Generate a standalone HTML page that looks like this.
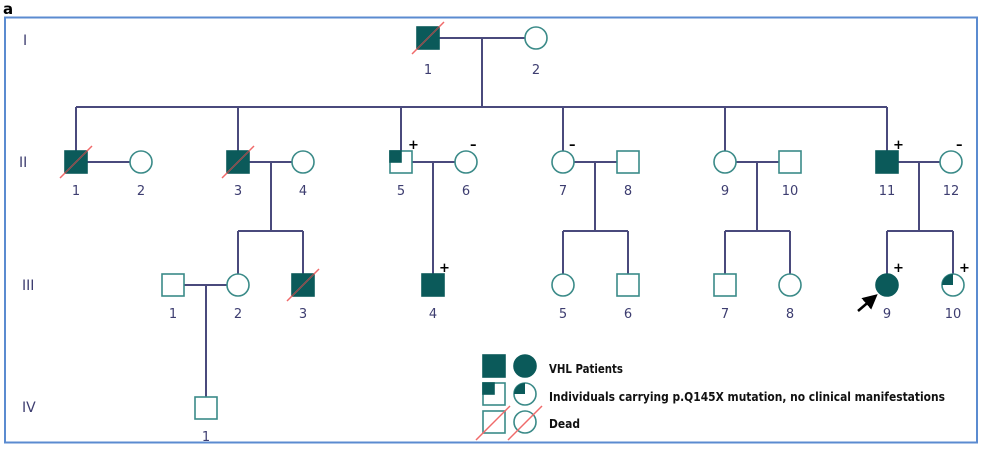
<!DOCTYPE html>
<html><head><meta charset="utf-8"><style>
html,body{margin:0;padding:0;background:#fff;}
svg{display:block;}
text{font-family:"DejaVu Sans","Liberation Sans",sans-serif;}
</style></head><body>
<svg width="992" height="453" viewBox="0 0 992 453" xmlns="http://www.w3.org/2000/svg">
<defs>
<marker id="ah" markerWidth="6" markerHeight="6" refX="3" refY="3" orient="auto"><path d="M0,0 L6,3 L0,6 z" fill="#000"/></marker>
</defs>
<text x="3" y="14" font-family="Liberation Sans" font-weight="bold" font-size="15" fill="#000">a</text>
<rect x="5" y="17.5" width="972" height="425" fill="none" stroke="#5b8bd0" stroke-width="2"/>
<g fill="#3d3d70" font-size="14" font-family="Liberation Mono">
<text x="23" y="45">I</text>
<text x="19" y="167">II</text>
<text x="22" y="290">III</text>
<text x="22" y="412">IV</text>
</g>
<g stroke="#4a4a7c" stroke-width="2" fill="none">
<line x1="439" y1="38" x2="525" y2="38"/>
<line x1="482" y1="38" x2="482" y2="107"/>
<line x1="76" y1="107" x2="887" y2="107"/>
<line x1="76" y1="107" x2="76" y2="151"/>
<line x1="238" y1="107" x2="238" y2="151"/>
<line x1="401" y1="107" x2="401" y2="151"/>
<line x1="563" y1="107" x2="563" y2="151"/>
<line x1="725" y1="107" x2="725" y2="151"/>
<line x1="887" y1="107" x2="887" y2="151"/>
<line x1="87" y1="162" x2="130" y2="162"/>
<line x1="249" y1="162" x2="292" y2="162"/>
<line x1="412" y1="162" x2="455" y2="162"/>
<line x1="574" y1="162" x2="617" y2="162"/>
<line x1="736" y1="162" x2="779" y2="162"/>
<line x1="898" y1="162" x2="940" y2="162"/>
<line x1="271" y1="162" x2="271" y2="231"/>
<line x1="238" y1="231" x2="303" y2="231"/>
<line x1="238" y1="231" x2="238" y2="274"/>
<line x1="303" y1="231" x2="303" y2="274"/>
<line x1="433" y1="162" x2="433" y2="274"/>
<line x1="595" y1="162" x2="595" y2="231"/>
<line x1="563" y1="231" x2="628" y2="231"/>
<line x1="563" y1="231" x2="563" y2="274"/>
<line x1="628" y1="231" x2="628" y2="274"/>
<line x1="757" y1="162" x2="757" y2="231"/>
<line x1="725" y1="231" x2="790" y2="231"/>
<line x1="725" y1="231" x2="725" y2="274"/>
<line x1="790" y1="231" x2="790" y2="274"/>
<line x1="919" y1="162" x2="919" y2="231"/>
<line x1="887" y1="231" x2="953" y2="231"/>
<line x1="887" y1="231" x2="887" y2="274"/>
<line x1="953" y1="231" x2="953" y2="274"/>
<line x1="184" y1="285" x2="227" y2="285"/>
<line x1="206" y1="285" x2="206" y2="397"/>
</g>
<g stroke="#3a8a88" stroke-width="1.6" fill="#fff">
<rect x="417" y="27" width="22" height="22" fill="#0b5a5a" stroke="#0b5a5a"/>
<circle cx="536" cy="38" r="11"/>
<rect x="65" y="151" width="22" height="22" fill="#0b5a5a" stroke="#0b5a5a"/>
<circle cx="141" cy="162" r="11"/>
<rect x="227" y="151" width="22" height="22" fill="#0b5a5a" stroke="#0b5a5a"/>
<circle cx="303" cy="162" r="11"/>
<rect x="390" y="151" width="22" height="22"/>
<rect x="390" y="151" width="11" height="11" fill="#0b5a5a" stroke="#0b5a5a"/>
<circle cx="466" cy="162" r="11"/>
<circle cx="563" cy="162" r="11"/>
<rect x="617" y="151" width="22" height="22"/>
<circle cx="725" cy="162" r="11"/>
<rect x="779" y="151" width="22" height="22"/>
<rect x="876" y="151" width="22" height="22" fill="#0b5a5a" stroke="#0b5a5a"/>
<circle cx="951" cy="162" r="11"/>
<rect x="162" y="274" width="22" height="22"/>
<circle cx="238" cy="285" r="11"/>
<rect x="292" y="274" width="22" height="22" fill="#0b5a5a" stroke="#0b5a5a"/>
<rect x="422" y="274" width="22" height="22" fill="#0b5a5a" stroke="#0b5a5a"/>
<circle cx="563" cy="285" r="11"/>
<rect x="617" y="274" width="22" height="22"/>
<rect x="714" y="274" width="22" height="22"/>
<circle cx="790" cy="285" r="11"/>
<circle cx="887" cy="285" r="11" fill="#0b5a5a" stroke="#0b5a5a"/>
<circle cx="953" cy="285" r="11"/>
<path d="M953,285 L953,274 A11,11 0 0 0 942,285 Z" fill="#0b5a5a" stroke="none"/>
<rect x="195" y="397" width="22" height="22"/>
<rect x="483" y="355" width="22" height="22" fill="#0b5a5a" stroke="#0b5a5a"/>
<circle cx="525" cy="366" r="11" fill="#0b5a5a" stroke="#0b5a5a"/>
<rect x="483" y="383" width="22" height="22"/>
<rect x="483" y="383" width="11" height="11" fill="#0b5a5a" stroke="#0b5a5a"/>
<circle cx="525" cy="394" r="11"/>
<path d="M525,394 L525,383 A11,11 0 0 0 514,394 Z" fill="#0b5a5a" stroke="none"/>
<rect x="483" y="411" width="22" height="22"/>
<circle cx="525" cy="422" r="11"/>
</g>
<g stroke="#f06a6a" stroke-width="1.5">
<line x1="412" y1="54" x2="444" y2="22"/>
<line x1="60" y1="178" x2="92" y2="146"/>
<line x1="222" y1="178" x2="254" y2="146"/>
<line x1="287" y1="301" x2="319" y2="269"/>
<line x1="476" y1="440" x2="510" y2="406"/>
<line x1="508" y1="440" x2="542" y2="406"/>
</g>
<g stroke="#333" stroke-width="1" opacity="0.6">
<line x1="417" y1="49" x2="439" y2="27"/>
<line x1="65" y1="173" x2="87" y2="151"/>
<line x1="227" y1="173" x2="249" y2="151"/>
<line x1="292" y1="296" x2="314" y2="274"/>
</g>
<line x1="858" y1="311" x2="872" y2="299" stroke="#000" stroke-width="2.5" marker-end="url(#ah)"/>
<g font-family="Liberation Sans" font-weight="bold" font-size="13" fill="#000">
<text x="408" y="149">+</text>
<text x="470" y="149">–</text>
<text x="569" y="149">–</text>
<text x="893" y="149">+</text>
<text x="956" y="149">–</text>
<text x="439" y="272">+</text>
<text x="893" y="272">+</text>
<text x="959" y="272">+</text>
</g>
<g fill="#3d3d70" font-size="13" text-anchor="middle">
<text x="428" y="74">1</text><text x="536" y="74">2</text>
<text x="76" y="195">1</text><text x="141" y="195">2</text>
<text x="238" y="195">3</text><text x="303" y="195">4</text>
<text x="401" y="195">5</text><text x="466" y="195">6</text>
<text x="563" y="195">7</text><text x="628" y="195">8</text>
<text x="725" y="195">9</text><text x="790" y="195">10</text>
<text x="887" y="195">11</text><text x="951" y="195">12</text>
<text x="173" y="318">1</text><text x="238" y="318">2</text>
<text x="303" y="318">3</text><text x="433" y="318">4</text>
<text x="563" y="318">5</text><text x="628" y="318">6</text>
<text x="725" y="318">7</text><text x="790" y="318">8</text>
<text x="887" y="318">9</text><text x="953" y="318">10</text>
<text x="206" y="441">1</text>
</g>
<g font-family="Liberation Sans" font-weight="bold" font-size="12" fill="#111">
<text x="549" y="373" textLength="74" lengthAdjust="spacingAndGlyphs">VHL Patients</text>
<text x="549" y="401" textLength="396" lengthAdjust="spacingAndGlyphs">Individuals carrying p.Q145X mutation, no clinical manifestations</text>
<text x="549" y="428" textLength="31" lengthAdjust="spacingAndGlyphs">Dead</text>
</g>
</svg>
</body></html>
